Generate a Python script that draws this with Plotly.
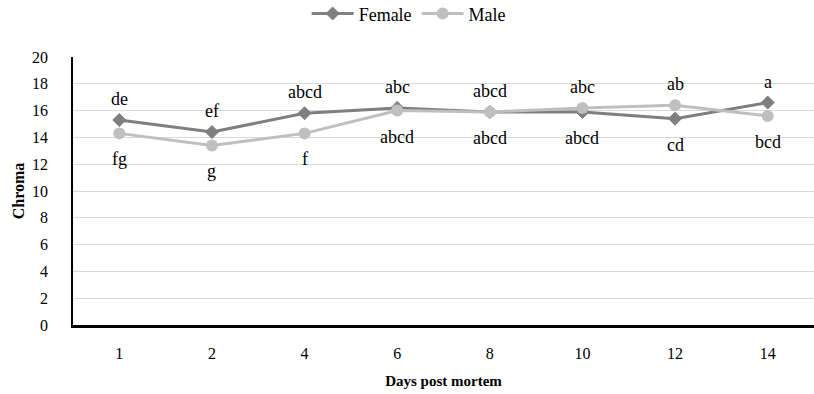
import plotly.graph_objects as go

days = ["1", "2", "4", "6", "8", "10", "12", "14"]
female = [15.3, 14.4, 15.8, 16.2, 15.9, 15.9, 15.4, 16.6]
male = [14.3, 13.4, 14.3, 16.0, 15.9, 16.2, 16.4, 15.6]
female_letters = ["de", "ef", "abcd", "abc", "abcd", "abcd", "cd", "a"]
male_letters = ["fg", "g", "f", "abcd", "abcd", "abc", "ab", "bcd"]
y_ticks = [0, 2, 4, 6, 8, 10, 12, 14, 16, 18, 20]

FONT = "Liberation Serif"
C_F = "#7f7f7f"
C_M = "#bfbfbf"

fig = go.Figure()
fig.add_trace(go.Scatter(
    x=days, y=female, name="Female", mode="lines+markers",
    line=dict(color=C_F, width=3),
    marker=dict(symbol="diamond", size=10, color=C_F, line=dict(color=C_F, width=1)),
))
fig.add_trace(go.Scatter(
    x=days, y=male, name="Male", mode="lines+markers",
    line=dict(color=C_M, width=3),
    marker=dict(symbol="circle", size=12, color=C_M),
))

annotations = []
for i, d in enumerate(days):
    f_up = female[i] >= male[i]
    annotations.append(dict(x=i, y=female[i], xref="x", yref="y", text=female_letters[i], showarrow=False,
                            yshift=21 if f_up else -26, font=dict(family=FONT, size=18, color="#000")))
    annotations.append(dict(x=i, y=male[i], xref="x", yref="y", text=male_letters[i], showarrow=False,
                            yshift=-26 if f_up else 21, font=dict(family=FONT, size=18, color="#000")))

fig.update_layout(
    width=814, height=394,
    margin=dict(l=73, r=0, t=57, b=69),
    paper_bgcolor="white", plot_bgcolor="white",
    font=dict(family=FONT, size=16, color="#000"),
    annotations=annotations,
    legend=dict(orientation="h", xref="container", yref="container",
                x=0.502, xanchor="center", y=0.965, yanchor="middle",
                font=dict(family=FONT, size=18), itemwidth=42,
                bgcolor="rgba(0,0,0,0)"),
    xaxis=dict(type="category", range=[-0.5, 7.5], showgrid=False, showline=True,
               linecolor="#000", linewidth=2.5,
               ticks="outside", ticklen=12, tickcolor="rgba(0,0,0,0)",
               tickfont=dict(family=FONT, size=16), automargin=False,
               title=dict(text="<b>Days post mortem</b>", font=dict(family=FONT, size=15), standoff=15),
               zeroline=False),
    yaxis=dict(range=[0, 20], tickvals=y_ticks, showgrid=True, gridcolor="#d9d9d9", gridwidth=1,
               showline=True, linecolor="#000", linewidth=1.5,
               ticks="outside", ticklen=20, tickcolor="rgba(0,0,0,0)",
               tickfont=dict(family=FONT, size=16), automargin=False,
               title=dict(text="<b>Chroma</b>", font=dict(family=FONT, size=16), standoff=3),
               zeroline=False),
    showlegend=True,
)

fig.write_html("out.html", config={"displayModeBar": False},
               post_script="document.body.style.margin='0';")
